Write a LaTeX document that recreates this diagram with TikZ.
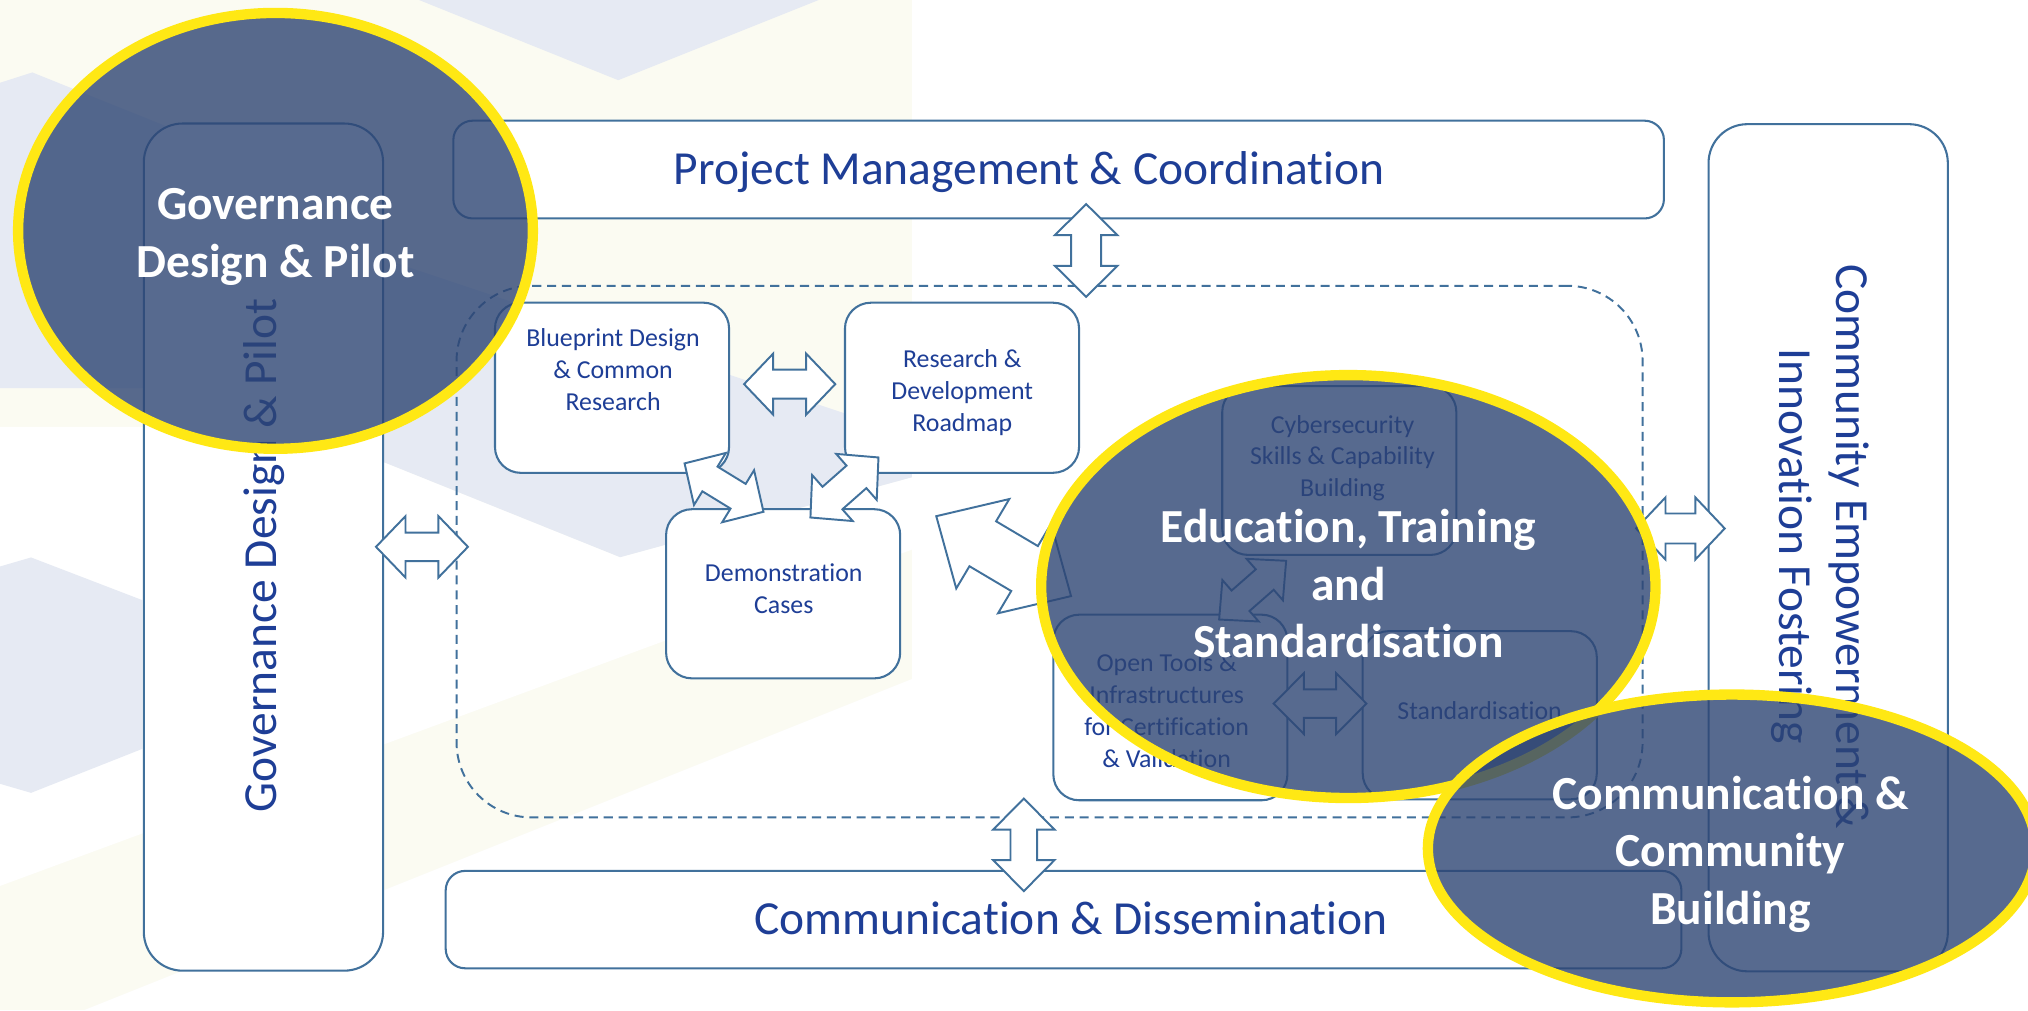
\documentclass[tikz,border=0pt]{standalone}
\usepackage{fontspec}
\setmainfont{Carlito}[Ligatures=NoCommon]
\usetikzlibrary{calc}

\definecolor{boxline}{RGB}{65,113,156}
\definecolor{txtblue}{RGB}{30,62,150}
\definecolor{hlfill}{RGB}{46,69,115}
\definecolor{hlring}{RGB}{255,232,20}
\definecolor{bgblue}{RGB}{230,234,243}
\definecolor{bgcream}{RGB}{251,251,242}

% outlined block arrow with two heads: from, to, shaft half width, head half width, head length
\newcommand{\dblarrow}[5]{%
\draw[blockarrow] (#1)
 -- ($(#1)!#5pt!(#2)!#4pt!90:(#2)$) -- ($(#1)!#5pt!(#2)!#3pt!90:(#2)$)
 -- ($(#2)!#5pt!(#1)!#3pt!-90:(#1)$) -- ($(#2)!#5pt!(#1)!#4pt!-90:(#1)$)
 -- (#2)
 -- ($(#2)!#5pt!(#1)!#4pt!90:(#1)$) -- ($(#2)!#5pt!(#1)!#3pt!90:(#1)$)
 -- ($(#1)!#5pt!(#2)!#3pt!-90:(#2)$) -- ($(#1)!#5pt!(#2)!#4pt!-90:(#2)$)
 -- cycle;}

\begin{document}
\begin{tikzpicture}[x=1pt,y=-1pt,
wpbox/.style={draw=boxline, line width=1.6pt, fill=white, inner sep=0pt, outer sep=0pt},
bigbox/.style={wpbox, rounded corners=15pt},
sidebox/.style={wpbox, rounded corners=30pt, minimum width=185pt, minimum height=655pt},
smallbox/.style={wpbox, rounded corners=20pt, minimum width=181pt},
dashbox/.style={draw=boxline, line width=1.5pt, dash pattern=on 7pt off 4.5pt, rounded corners=58pt, inner sep=0pt},
blockarrow/.style={draw=boxline, line width=1.5pt, fill=white, line join=miter},
bigtext/.style={text=txtblue, font={\fontsize{36.7}{44}\selectfont}, inner sep=0pt},
smalltext/.style={text=txtblue, font={\fontsize{20}{24.6}\selectfont}, align=center, inner sep=0pt},
hilite/.style={draw=hlring, line width=8pt, fill=hlfill, fill opacity=0.8},
hitext/.style={text=white, font={\bfseries\fontsize{36.7}{44.5}\selectfont}, align=center, inner sep=0pt}]

\clip (0,0) rectangle (1568,781);
\fill[white] (0,0) rectangle (1568,781);

% background
\fill[bgcream] (0,0) rectangle (705,781);
\fill[white] (0,330) -- (296,330) -- (296,357) -- (479.5,430.8) -- (705,369) -- (705,425) -- (0,685) -- cycle;
\fill[white] (0,807) -- (705,525) -- (705,781) -- (0,781) -- cycle;
\fill[bgblue] (324,0) -- (633,0) -- (478,62) -- cycle;
\fill[bgblue] (0,64) -- (25,56) -- (296,165) -- (296,300) -- (0,300) -- cycle;
\fill[bgblue] (296,200) -- (705,337) -- (705,369) -- (479.5,430.8) -- (296,357) -- cycle;
\fill[bgblue] (0,438) -- (24,431) -- (110,464) -- (110,579) -- (24,613) -- (0,606) -- cycle;

\node[dashbox, minimum width=917pt, minimum height=411pt] (core) at (811.5,426.5) {};

\node[sidebox] (gov) at (203.7,423) {};
\node[sidebox] (cem) at (1413.5,423.5) {};
\node[bigbox, minimum width=936pt, minimum height=75.6pt] (pm) at (818.5,131.1) {};
\node[bigbox, minimum width=955.4pt, minimum height=75.3pt] (cd) at (822.3,711) {};

\foreach \n/\x/\y/\h in {blue/473.2/299.8/131.6, rdr/743.8/299.8/131.5, demo/605.5/459.1/130.8,
  cyber/1035.5/363.8/130.5, otools/904.9/547/143.5, std/1144.1/553/130}
  \node[smallbox, minimum height=\h pt] (\n) at (\x,\y) {};

\coordinate (pm-a) at (839.8,157.8);
\coordinate (pm-b) at (839.8,229.5);
\coordinate (cd-a) at (791.6,617.4);
\coordinate (cd-b) at (791.6,689);
\coordinate (gv-a) at (290.7,422.8);
\coordinate (gv-b) at (361.8,422.8);
\coordinate (ce-a) at (1265,408.6);
\coordinate (ce-b) at (1333.5,408.6);
\coordinate (br-a) at (575.3,297);
\coordinate (br-b) at (645.8,297);
\coordinate (bd-a) at (529.3,358.3);
\coordinate (bd-b) at (590.3,395.7);
\coordinate (rd-a) at (679.2,353.7);
\coordinate (rd-b) at (626.6,400.1);
\coordinate (ed-a) at (723.9,399.1);
\coordinate (ed-b) at (828.1,460.9);
\coordinate (co-a) at (994.4,433.6);
\coordinate (co-b) at (942.6,479);
\coordinate (os-a) at (984.7,544);
\coordinate (os-b) at (1056.5,544);

\foreach \fa/\fb/\shw/\hhw/\hlen in {pm-a/pm-b/11.6/24.2/24, cd-a/cd-b/10.3/23.7/24,
  gv-a/gv-b/11/23.7/22.8, ce-a/ce-b/11.6/24/22.7, br-a/br-b/11.2/23.6/22.5,
  bd-a/bd-b/11.2/23.6/23, rd-a/rd-b/11.6/23.7/22.7, ed-a/ed-b/20.2/40.2/41.8,
  co-a/co-b/10.5/21.3/22, os-a/os-b/11/23.5/23.4}
  {\dblarrow{\fa}{\fb}{\shw}{\hhw}{\hlen}}

\node[bigtext, anchor=base] (pm-t) at (795.5,143) {Project Management \& Coordination};
\node[bigtext, anchor=base] (cd-t) at (828,722.6) {Communication \& Dissemination};
\node[bigtext, anchor=base, rotate=90] (gov-t) at (213.5,429.3) {Governance Design \& Pilot};
\node[bigtext, align=center, rotate=-90] (cem-t) at (1407.5,422.5) {Community Empowerment \&\\Innovation Fostering};

\node[smalltext] (blue-t) at (474,285.6) {Blueprint Design\\\& Common\\Research};
\node[smalltext] (rdr-t) at (744,303.6) {Research \&\\Development\\Roadmap};
\node[smalltext] (demo-t) at (606,455.3) {Demonstration\\Cases};
\node[smalltext] (cyber-t) at (1038,354.2) {Cybersecurity\\Skills \& Capability\\Building};
\node[smalltext] (otools-t) at (902,549.4) {Open Tools \&\\Infrastructures\\for Certification\\\& Validation};
\node[smalltext, anchor=base] (std-t) at (1144,556) {Standardisation};

% highlighted groups
\draw[hilite] (213,178.5) ellipse [x radius=199pt, y radius=168.5pt];
\node[hitext] (gov-h) at (213,183.1) {Governance\\Design \& Pilot};

\draw[hilite] (1042.5,453.5) ellipse [x radius=237.5pt, y radius=163.5pt];
\node[hitext] (edu-h) at (1042.5,451.5) {Education, Training\\and\\Standardisation};

\draw[hilite] (1339,656) ellipse [x radius=235pt, y radius=119pt];
\node[hitext] (com-h) at (1338,660.4) {Communication \&\\Community\\Building};

\end{tikzpicture}
\end{document}
